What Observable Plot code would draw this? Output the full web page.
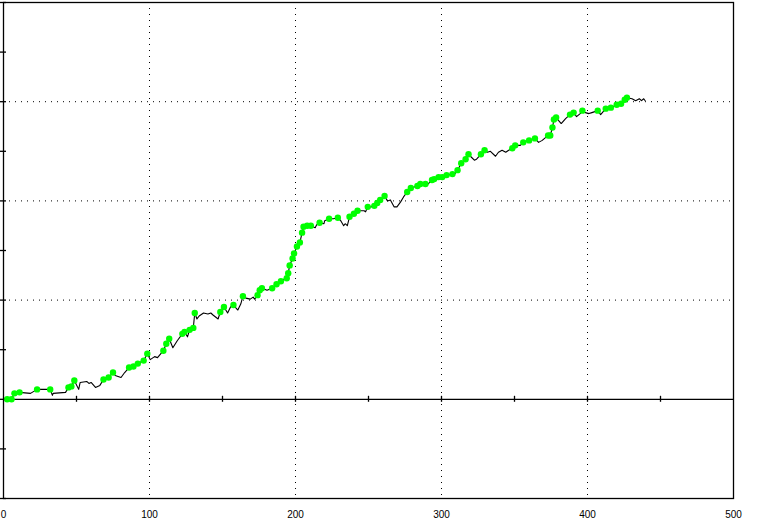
<!DOCTYPE html>
<html>
<head>
<meta charset="utf-8">
<script src="https://cdn.jsdelivr.net/npm/d3@7"></script>
<script src="https://cdn.jsdelivr.net/npm/@observablehq/plot@0.6"></script>
<style>
  html, body { margin: 0; padding: 0; background: #fff; }
  #chart svg { display: block; }
</style>
</head>
<body>
<div id="chart"></div>
<script>
// Series: x position, cumulative value, and whether the point is marked with a green dot (1) or not (0)
const xVals = [0, 2.5, 5.5, 7.5, 11, 18.5, 23, 32, 33.5, 34, 42.5, 44.5, 46.5, 48.5, 51.5, 52.5, 57, 58.5, 60, 63, 66,
  68.5, 72, 75, 76.5, 80.5, 83, 86, 89, 92, 96, 98.5, 100.5, 103.5, 105.5, 109.5, 111.5, 113.5, 116, 119, 122.5,
  124, 126, 127.5, 130, 131, 132.5, 134, 137, 140, 142, 143.5, 147, 148.5, 151, 153.5, 155.5, 157.5, 160.5, 162.5,
  164, 166, 169, 171, 172, 174, 175.5, 177, 180.5, 184, 187, 190, 192, 194, 195, 196, 198, 199, 201, 203, 204.5,
  205.5, 208, 210.5, 213.5, 214.5, 216.5, 219.5, 220, 223, 226, 229, 231, 233, 234, 235.5, 237, 240, 242.5, 244.5,
  247, 248, 249.5, 252, 254, 256, 258, 261, 263, 265, 267.5, 269.5, 272, 274, 276.5, 279, 283.5, 285.5, 289, 290,
  293.5, 295, 298, 300.5, 303.5, 307.5, 308, 311, 313.5, 316.5, 318.5, 320.5, 322.5, 324, 327, 329.5, 331.5, 333.5,
  337, 339, 341.5, 344, 346, 348.5, 350.5, 354, 356, 360, 364, 366.5, 369, 373, 374.5, 376, 377, 378.5, 382, 385,
  388, 390.5, 392.5, 395, 396.5, 398.5, 401, 403, 407, 409, 412.5, 416, 420, 423, 425.5, 427, 430.5, 433, 435.5,
  437, 438.5, 439.5];
const yVals = [0.00, 0.00, 0.00, 0.06, 0.07, 0.06, 0.10, 0.10, 0.04, 0.06, 0.07, 0.12, 0.13, 0.19, 0.10, 0.17, 0.18, 0.16, 0.17, 0.12, 0.14,
  0.20, 0.22, 0.27, 0.24, 0.22, 0.27, 0.32, 0.33, 0.36, 0.39, 0.46, 0.40, 0.43, 0.42, 0.49, 0.56, 0.61, 0.52, 0.59, 0.66,
  0.68, 0.63, 0.70, 0.72, 0.87, 0.81, 0.84, 0.87, 0.86, 0.87, 0.85, 0.81, 0.88, 0.93, 0.87, 0.93, 0.95, 0.90, 0.96,
  1.04, 1.02, 1.01, 1.03, 1.01, 1.05, 1.10, 1.12, 1.10, 1.12, 1.16, 1.19, 1.21, 1.22, 1.27, 1.35, 1.42, 1.47, 1.54, 1.58, 1.68,
  1.74, 1.75, 1.75, 1.73, 1.76, 1.78, 1.77, 1.80, 1.82, 1.82, 1.83, 1.80, 1.75, 1.77, 1.75, 1.84, 1.87, 1.90, 1.90,
  1.90, 1.89, 1.94, 1.94, 1.95, 1.98, 2.01, 2.05, 2.00, 2.01, 1.94, 1.94, 1.99, 2.04, 2.09, 2.13, 2.15, 2.17, 2.17, 2.16,
  2.21, 2.22, 2.24, 2.24, 2.26, 2.27, 2.25, 2.31, 2.38, 2.42, 2.47, 2.44, 2.41, 2.42, 2.47, 2.51, 2.49, 2.50,
  2.45, 2.49, 2.51, 2.49, 2.51, 2.53, 2.56, 2.56, 2.59, 2.61, 2.63, 2.59, 2.61, 2.66, 2.66, 2.74, 2.82, 2.84, 2.78, 2.83,
  2.87, 2.89, 2.85, 2.88, 2.91, 2.89, 2.88, 2.89, 2.91, 2.87, 2.93, 2.94, 2.97, 2.98, 3.02, 3.04, 3.03, 3.01, 3.03,
  3.01, 3.03, 3.01];
const dotFlags = [0, 1, 1, 1, 1, 0, 1, 1, 0, 0, 0, 1, 1, 1, 0, 0, 0, 0, 0, 0, 0,
  1, 1, 1, 0, 0, 0, 1, 1, 1, 1, 1, 0, 0, 0, 1, 1, 1, 0, 0, 1,
  1, 0, 1, 1, 1, 0, 0, 0, 0, 0, 0, 0, 1, 1, 0, 0, 1, 0, 0,
  1, 0, 0, 0, 0, 1, 1, 1, 0, 1, 1, 1, 0, 1, 1, 1, 1, 1, 1, 1, 1,
  1, 1, 1, 0, 0, 1, 0, 0, 1, 0, 1, 0, 0, 0, 0, 1, 1, 1, 0,
  0, 0, 1, 0, 1, 1, 1, 1, 0, 0, 0, 0, 0, 0, 1, 1, 1, 1, 1, 0,
  1, 1, 1, 1, 1, 1, 0, 1, 1, 1, 1, 0, 0, 0, 1, 1, 0, 0,
  0, 0, 0, 0, 0, 1, 1, 0, 1, 1, 1, 0, 0, 1, 1, 1, 1, 1, 0, 0,
  1, 1, 0, 0, 1, 0, 0, 0, 1, 0, 1, 1, 1, 1, 1, 1, 0, 0, 0,
  0, 0, 0];

// Axis / grid values
const xLabelTicks = [0, 100, 200, 300, 400, 500];
const xGridLines = [100, 200, 300, 400];
const xZeroTicks = [50, 100, 150, 200, 250, 300, 350, 400, 450];
const yGridLines = [1, 2, 3];
const yTicks = [-1, -0.5, 0, 0.5, 1, 1.5, 2, 2.5, 3, 3.5, 4];
const xDomain = [0, 500];
const yDomain = [-1, 4];

const data = xVals.map((x, i) => ({x, y: yVals[i], dot: dotFlags[i] === 1}));
const dots = data.filter(d => d.dot);

const chart = Plot.plot({
  width: 767,
  height: 529,
  marginLeft: 3,
  marginRight: 34,
  marginTop: 2,
  marginBottom: 31,
  style: {background: "#fff", fontFamily: "'Liberation Sans', Arial, sans-serif", fontSize: "10px", color: "#000"},
  x: {domain: xDomain, ticks: xLabelTicks, tickSize: 0, tickPadding: 12, label: null},
  y: {domain: yDomain, axis: null},
  marks: [
    Plot.ruleX(xGridLines, {stroke: "#000", strokeDasharray: "1,5"}),
    Plot.ruleY(yGridLines, {stroke: "#000", strokeDasharray: "1,5"}),
    Plot.ruleY([0], {stroke: "#000", strokeWidth: 1.3}),
    Plot.ruleX(xZeroTicks, {y1: 0, y2: 0, insetTop: -3, insetBottom: -3, stroke: "#000", strokeWidth: 1.3}),
    Plot.ruleY(yTicks, {x1: 0, x2: 0, insetLeft: -3, insetRight: -3, stroke: "#000", strokeWidth: 1.3}),
    Plot.line(data, {x: "x", y: "y", stroke: "#000", strokeWidth: 1.1}),
    Plot.dot(dots, {x: "x", y: "y", r: 3.2, fill: "#00ff00", stroke: "none"}),
    Plot.frame({stroke: "#000", strokeWidth: 1.3})
  ]
});
document.getElementById("chart").appendChild(chart);
</script>
</body>
</html>
